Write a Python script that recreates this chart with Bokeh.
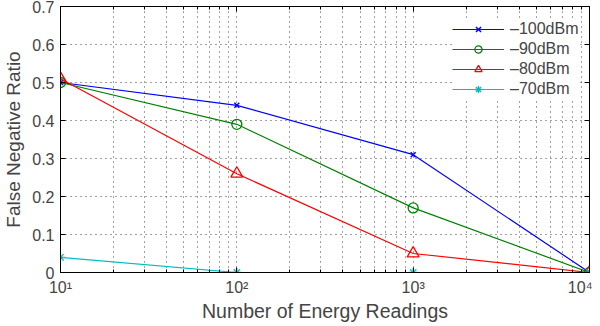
from bokeh.plotting import figure
from bokeh.models import Legend, LegendItem, FixedTicker, Range1d, LogAxis, LinearAxis
from bokeh.embed import file_html
from bokeh.resources import INLINE

readings = [10, 100, 1000, 10000]
fn_100 = [0.50, 0.44, 0.31, 0.00]
fn_90 = [0.50, 0.39, 0.17, 0.00]
fn_80 = [0.51, 0.26, 0.05, 0.00]
fn_70 = [0.04, 0.00, 0.00, 0.00]
series_labels = ["\u2013100dBm", "\u201390dBm", "\u201380dBm", "\u201370dBm"]
x_tick_labels = ["10\u00b9", "10\u00b2", "10\u00b3", "10\u2074"]
y_ticks = [0, 0.1, 0.2, 0.3, 0.4, 0.5, 0.6, 0.7]
y_tick_labels = ["0", "0.1", "0.2", "0.3", "0.4", "0.5", "0.6", "0.7"]

FONT = "Liberation Sans"
minor_x = [m * 10 ** e for e in range(1, 4) for m in range(2, 10)]

p = figure(width=592, height=324, x_axis_type="log", output_backend="svg",
           toolbar_location=None, x_range=Range1d(10, 10000), y_range=Range1d(0, 0.7),
           min_border_left=8, min_border_right=3, min_border_top=6, min_border_bottom=2)

p.xaxis.axis_label = "Number of Energy Readings"
p.yaxis.axis_label = "False Negative Ratio"
for ax in [p.xaxis[0], p.yaxis[0]]:
    ax.axis_label_text_font = FONT
    ax.axis_label_text_font_style = "normal"
    ax.major_label_text_font = FONT
    ax.major_label_text_font_size = "16px"
    ax.major_tick_in = 5
    ax.major_tick_out = 0
    ax.minor_tick_in = 3
    ax.minor_tick_out = 0
    ax.axis_line_color = "black"
    ax.major_tick_line_color = "black"
    ax.minor_tick_line_color = "black"
    ax.major_label_standoff = 6
p.xaxis[0].axis_label_text_font_size = "19.5px"
p.yaxis[0].axis_label_text_font_size = "19px"
p.xaxis[0].axis_label_standoff = 1
p.yaxis[0].axis_label_standoff = 5

p.xaxis[0].ticker = FixedTicker(ticks=readings, minor_ticks=minor_x)
p.xaxis[0].major_label_overrides = {readings[i]: x_tick_labels[i] for i in range(4)}
p.yaxis[0].ticker = FixedTicker(ticks=y_ticks)
p.yaxis[0].major_label_overrides = {y_ticks[i]: y_tick_labels[i] for i in range(len(y_ticks))}
p.yaxis[0].minor_tick_line_color = None

# box axes (top and right) with inward ticks, no labels
top = LogAxis(ticker=FixedTicker(ticks=readings, minor_ticks=minor_x),
              major_label_text_font_size="1px", major_label_text_color=None,
              major_label_standoff=0, major_tick_in=5, major_tick_out=0,
              minor_tick_in=3, minor_tick_out=0, axis_line_color="black")
right = LinearAxis(ticker=FixedTicker(ticks=y_ticks),
                   major_label_text_font_size="1px", major_label_text_color=None,
                   major_label_standoff=0, major_tick_in=5, major_tick_out=0,
                   minor_tick_line_color=None, axis_line_color="black")
p.add_layout(top, "above")
p.add_layout(right, "right")

p.outline_line_color = "black"

p.xgrid.ticker = FixedTicker(ticks=readings, minor_ticks=minor_x)
p.ygrid.ticker = FixedTicker(ticks=y_ticks)
p.xgrid.grid_line_color = "#444444"
p.xgrid.grid_line_dash = "1 4"
p.xgrid.minor_grid_line_color = "#444444"
p.xgrid.minor_grid_line_dash = "1 4"
p.ygrid.grid_line_color = "#444444"
p.ygrid.grid_line_dash = "1 4"

items = []
l1 = p.line(readings, fn_100, color="#0000ff", line_width=1.2)
m1 = p.scatter(readings, fn_100, marker="x", size=7, color="#0000ff", line_width=1.5)
items.append(LegendItem(label=series_labels[0], renderers=[l1, m1]))
l2 = p.line(readings, fn_90, color="#008000", line_width=1.2)
m2 = p.scatter(readings, fn_90, marker="circle", size=10, line_color="#008000",
               fill_color=None, line_width=1.3)
items.append(LegendItem(label=series_labels[1], renderers=[l2, m2]))
l3 = p.line(readings, fn_80, color="#ff0000", line_width=1.2)
m3 = p.scatter(readings, fn_80, marker="triangle", size=12, line_color="#ff0000",
               fill_color=None, line_width=1.3)
items.append(LegendItem(label=series_labels[2], renderers=[l3, m3]))
l4 = p.line(readings, fn_70, color="#00bfbf", line_width=1.2)
m4 = p.scatter(readings, fn_70, marker="asterisk", size=9, color="#00bfbf", line_width=1.3)
items.append(LegendItem(label=series_labels[3], renderers=[l4, m4]))

legend = Legend(items=items, location=(392, 174), border_line_color=None,
                background_fill_color="white", background_fill_alpha=1.0,
                label_text_font=FONT, label_text_font_size="16px",
                glyph_width=52, glyph_height=18, label_height=18, spacing=2,
                padding=3, margin=0, label_standoff=6)
p.add_layout(legend)

open("out.html", "w").write(file_html(p, INLINE))
